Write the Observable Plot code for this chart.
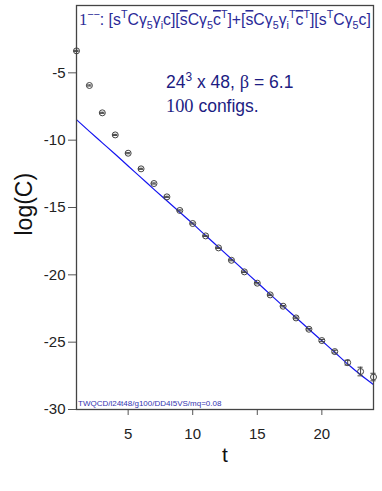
<!DOCTYPE html>
<html>
<head>
<meta charset="utf-8">
<script src="https://cdn.jsdelivr.net/npm/d3@7"></script>
<script src="https://cdn.jsdelivr.net/npm/@observablehq/plot@0.6"></script>
<style>
  body { margin: 0; background: #fff; }
  #chart svg { display: block; }
</style>
</head>
<body>
<div id="chart"></div>
<script>
// ---- data ----
const tValues = [1, 2, 3, 4, 5, 6, 7, 8, 9, 10, 11, 12, 13, 14, 15, 16, 17, 18, 19, 20, 21, 22, 23, 24];
const logC = [-3.37, -5.94, -7.97, -9.61, -10.97, -12.13, -13.22, -14.21, -15.22, -16.19, -17.11, -18.00,
              -18.92, -19.78, -20.62, -21.49, -22.33, -23.20, -24.04, -24.88, -25.70, -26.52, -27.18, -27.59];
const logCErr = [0.04, 0.04, 0.04, 0.04, 0.04, 0.04, 0.04, 0.04, 0.04, 0.04, 0.04, 0.04,
                 0.04, 0.05, 0.05, 0.05, 0.05, 0.06, 0.06, 0.08, 0.10, 0.18, 0.32, 0.28];
const fitT = [1, 2, 3, 4, 5, 6, 7, 8, 9, 10, 11, 12, 13, 14, 15, 16, 17, 18, 19, 20, 21, 22, 23, 24];
const fitLogC = [-8.48, -9.35, -10.20, -11.05, -11.92, -12.78, -13.65, -14.50, -15.35, -16.20, -17.08, -17.95,
                 -18.82, -19.70, -20.57, -21.45, -22.32, -23.18, -24.04, -24.90, -25.75, -26.62, -27.42, -28.15];
const xTicks = [5, 10, 15, 20];
const yTicks = [-30, -25, -20, -15, -10, -5];
const xLabel = "t";
const yLabel = "log(C)";
const infoLine1 = ["24", "3", " x 48, ", "β", " = 6.1"];
const infoLine2 = ["100", " configs."];
const footer = "TWQCD/l24t48/g100/DD4I5VS/mq=0.08";
// title pieces: [text, kind]
const titleParts = [
  ["1", "serif"], ["\u2212\u2212", "sup"], [": [s", "n"], ["T", "sup"], ["C\u03b3", "n"], ["5", "sub"],
  ["\u03b3", "n"], ["i", "sub"], ["c][", "n"], ["s", "ov"], ["C\u03b3", "n"], ["5", "sub"], ["c", "ov"],
  ["T", "sup"], ["]+[", "n"], ["s", "ov"], ["C\u03b3", "n"], ["5", "sub"], ["\u03b3", "n"], ["i", "sub"],
  ["T", "sup"], ["c", "ov"], ["T", "sup"], ["][s", "n"], ["T", "sup"], ["C\u03b3", "n"], ["5", "sub"], ["c]", "n"]
];

const points = tValues.map((t, i) => ({t, v: logC[i], e: logCErr[i]}));
const fit = fitT.map((t, i) => ({t, v: fitLogC[i]}));

const sans = "'Liberation Sans', Arial, Helvetica, sans-serif";
const serif = "'Liberation Serif', 'Times New Roman', serif";
const navy = "#2a2a98";

const chart = Plot.plot({
  width: 382,
  height: 491,
  marginTop: 5,
  marginBottom: 82,
  marginLeft: 76,
  marginRight: 9,
  style: {fontFamily: sans, color: "#222", background: "#fff"},
  x: {domain: [1, 24]},
  y: {domain: [-30, 0]},
  marks: [
    Plot.axisX(xTicks, {tickSize: 6, tickPadding: 13, fontSize: 15, label: null, tickFormat: d => String(d), stroke: "#555"}),
    Plot.axisY(yTicks, {tickSize: 8, tickPadding: 3, fontSize: 15, label: null, tickFormat: d => String(d), stroke: "#555"}),
    Plot.line(fit, {x: "t", y: "v", stroke: "#1515f0", strokeWidth: 1.2, curve: "monotone-x", clip: true}),
    Plot.ruleX(points, {x: "t", y1: d => d.v - d.e, y2: d => d.v + d.e, stroke: "#444", strokeWidth: 1}),
    Plot.ruleY(points, {y: d => d.v - d.e, x1: d => d.t - 0.2, x2: d => d.t + 0.2, stroke: "#444", strokeWidth: 1}),
    Plot.ruleY(points, {y: d => d.v + d.e, x1: d => d.t - 0.2, x2: d => d.t + 0.2, stroke: "#444", strokeWidth: 1}),
    Plot.dot(points, {x: "t", y: "v", r: 3, stroke: "#444", strokeWidth: 1, fill: "none"}),
    Plot.frame({stroke: "#444", strokeWidth: 1.3}),
    Plot.text([xLabel], {frameAnchor: "bottom", dy: 52, fontSize: 21, fill: "#111", text: d => d}),
    Plot.text([yLabel], {frameAnchor: "left", dx: -52, dy: 28, rotate: -90, fontSize: 23, fill: "#111", text: d => d})
  ]
});
document.getElementById("chart").appendChild(chart);

// ---- annotations ----
const svg = d3.select(chart);

function richText(x, y, size, color, parts) {
  const txt = svg.append("text").attr("x", x).attr("y", y).attr("text-anchor", "start")
    .attr("font-size", size).attr("font-family", sans).attr("fill", color);
  let shift = 0;
  for (const [s, kind] of parts) {
    let target = 0, fs = size, fam = sans, deco = null;
    if (kind === "sup") { target = -0.42 * size; fs = size * 0.68; }
    else if (kind === "sub") { target = 0.25 * size; fs = size * 0.68; }
    else if (kind === "serif") { fam = serif; fs = size * 1.05; }
    else if (kind === "ov") { deco = "overline"; }
    const ts = txt.append("tspan").text(s).attr("font-size", fs).attr("font-family", fam);
    if (target !== shift) { ts.attr("dy", target - shift); shift = target; }
    if (deco) ts.style("text-decoration", deco);
  }
  return txt;
}

richText(79, 25, 15.8, navy, titleParts);
richText(166, 88, 17.5, "#1c1c82",
  [[infoLine1[0], "n"], [infoLine1[1], "sup"], [infoLine1[2], "n"], [infoLine1[3], "serif"], [infoLine1[4], "n"]]);
richText(166, 112, 17.5, "#1c1c82", [[infoLine2[0], "serif"], [infoLine2[1], "n"]]);
svg.append("text").attr("x", 78).attr("y", 406).attr("text-anchor", "start").attr("font-size", 8)
  .attr("font-family", sans).attr("fill", "#3434b0").text(footer);
</script>
</body>
</html>
